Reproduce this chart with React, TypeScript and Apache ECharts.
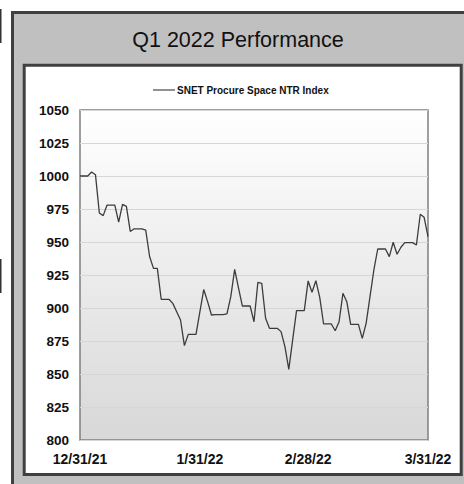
import React, { useEffect, useRef } from "react";
import * as echarts from "echarts";

const TITLE = "Q1 2022 Performance";
const SERIES_NAME = "SNET Procure Space NTR Index";
const START_DATE = [2021, 11, 31]; // Dec 31, 2021 (month is 0-based)
const SHOWN_LABELS = ["12/31/21", "1/31/22", "2/28/22", "3/31/22"];
const Y_MIN = 800;
const Y_MAX = 1050;
const Y_STEP = 25;

// daily index values, 12/31/21 .. 3/31/22
const VALUES = [
  1000, 1000, 1000, 1003, 1001, 972, 970, 978, 978, 978,
  965, 978.5, 977, 958, 960, 960, 960, 959, 939, 930,
  930, 906.6, 906.6, 906.6, 903.5, 897.2, 890.9, 871.5, 880, 880,
  880, 897, 914, 904.8, 894.7, 895, 895, 895, 895.5, 908.6,
  929.3, 915, 901.5, 901.5, 901.5, 889.6, 919.4, 918.7, 892.2, 884.6,
  884.6, 884.6, 882.1, 870.7, 853.5, 875.8, 898, 898, 898, 920.5,
  911.9, 920.7, 908.1, 887.9, 887.9, 887.9, 882.8, 889.6, 911.1, 904.8,
  887.6, 887.6, 887.6, 877, 888.4, 908.6, 928.8, 944.7, 944.7, 944.7,
  938.9, 949.8, 940.7, 946, 949.5, 949.5, 949.5, 947.7, 971, 968.7,
  954,
];

function buildDates(): string[] {
  const out: string[] = [];
  const d = new Date(START_DATE[0], START_DATE[1], START_DATE[2]);
  for (let i = 0; i < VALUES.length; i++) {
    out.push(`${d.getMonth() + 1}/${d.getDate()}/${String(d.getFullYear()).slice(2)}`);
    d.setDate(d.getDate() + 1);
  }
  return out;
}

const FONT = "'Liberation Sans', Arial, sans-serif";

export default function App() {
  const ref = useRef<HTMLDivElement>(null);
  useEffect(() => {
    if (!ref.current) return;
    const chart = echarts.init(ref.current, null, { renderer: "svg" });
    const dates = buildDates();
    chart.setOption({
      animation: false,
      backgroundColor: "#ffffff",
      graphic: [
        { type: "rect", z: -100, shape: { x: 0, y: 9, width: 1.5, height: 34 }, style: { fill: "#333" } },
        { type: "rect", z: -100, shape: { x: 0, y: 259, width: 1.5, height: 34 }, style: { fill: "#333" } },
        {
          type: "rect", z: -90,
          shape: { x: 12.5, y: 12.5, width: 470, height: 490 },
          style: { fill: "#c0c0c0", stroke: "#404040", lineWidth: 3 },
        },
        {
          type: "rect", z: -80,
          shape: { x: 24.2, y: 65.3, width: 437, height: 409.2 },
          style: { fill: "#ffffff", stroke: "#404040", lineWidth: 3 },
        },
        {
          type: "text", z: 10, x: 238, y: 40,
          style: {
            text: TITLE, fill: "#111", font: `21.5px ${FONT}`,
            textAlign: "center", textVerticalAlign: "middle",
          },
        },
      ],
      legend: {
        show: true,
        left: 148,
        top: 80,
        icon: "rect",
        itemWidth: 22,
        itemHeight: 1.3,
        itemGap: 10,
        itemStyle: { color: "#555" },
        textStyle: { fontFamily: FONT, fontSize: 10, fontWeight: "bold", color: "#111", padding: [0, 0, 0, -3] },
        data: [SERIES_NAME],
      },
      grid: {
        left: 80, top: 110, right: 36, bottom: 44,
        show: true,
        borderColor: "#7f7f7f",
        borderWidth: 1.5,
        backgroundColor: {
          type: "linear", x: 0, y: 0, x2: 0, y2: 1,
          colorStops: [
            { offset: 0, color: "#ffffff" },
            { offset: 1, color: "#d8d8d8" },
          ],
        },
      },
      xAxis: {
        type: "category",
        data: dates,
        boundaryGap: false,
        axisLine: { show: false },
        axisTick: { show: false },
        splitLine: { show: false },
        axisLabel: {
          interval: (i: number, v: string) => SHOWN_LABELS.includes(v),
          showMinLabel: true,
          showMaxLabel: true,
          hideOverlap: false,
          margin: 12,
          fontFamily: FONT, fontSize: 14, fontWeight: "bold", color: "#111",
        },
      },
      yAxis: {
        type: "value",
        min: Y_MIN, max: Y_MAX, interval: Y_STEP,
        axisLine: { show: false },
        axisTick: { show: false },
        splitLine: { show: true, lineStyle: { color: "#d6d6d6", width: 1 } },
        axisLabel: {
          margin: 11,
          formatter: (v: number) => String(v),
          fontFamily: FONT, fontSize: 13.5, fontWeight: "bold", color: "#111",
        },
      },
      series: [
        {
          name: SERIES_NAME,
          type: "line",
          data: VALUES,
          symbol: "none",
          showSymbol: false,
          lineStyle: { color: "#3c3c3c", width: 1.3 },
          itemStyle: { color: "#3c3c3c" },
        },
      ],
    });
    return () => chart.dispose();
  }, []);
  return (
    <div
      ref={ref}
      style={{ position: "absolute", left: 0, top: 0, width: 464, height: 484 }}
    />
  );
}
